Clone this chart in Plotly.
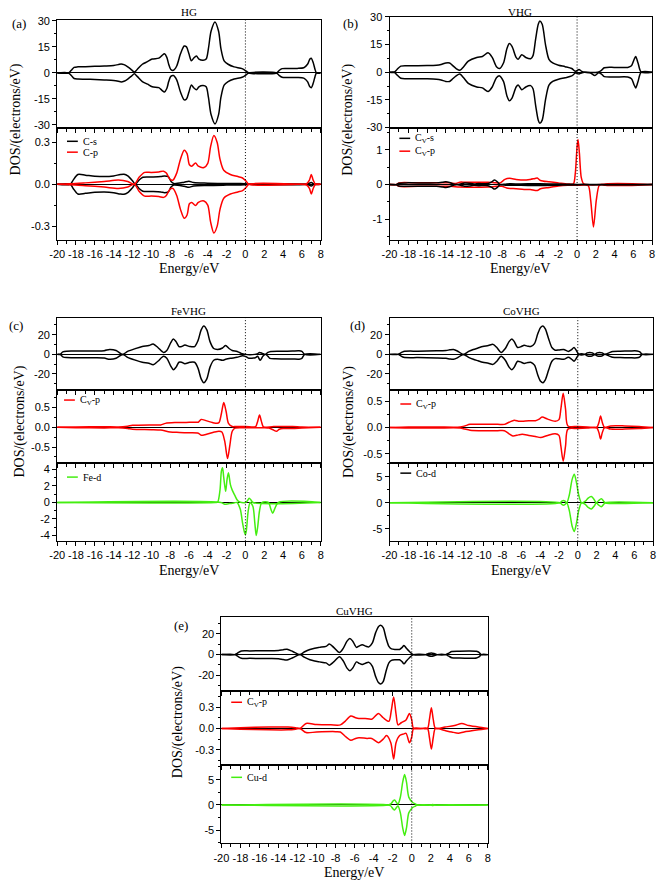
import plotly.graph_objects as go

# ---------------- data (energies in eV, DOS in electrons/eV) ----------------
# (a) HG total DOS (spin up; spin down is its mirror image)
HG_E = [-20, -18.8, -18.5, -18.2, -17.8, -17, -16, -15, -14, -13.5, -13.2, -12.9, -12.5, -12.1, -11.8,
        -11.5, -10.95, -10.4, -9.9, -9.2, -8.87, -8.6, -8.35, -8.15, -7.93, -7.65, -7.3, -6.9, -6.5, -6.26,
        -6.0, -5.74, -5.5, -5.2, -4.94, -4.5, -4.17, -3.93, -3.65, -3.23, -2.85, -2.6, -2.26, -1.84, -1.2,
        -0.35, 0.1, 0.35, 3.3, 3.6, 3.9, 4.5, 5.5, 6.2, 6.6, 6.85, 7.0, 7.2, 7.4, 7.55, 8]
HG_up = [0, 0, 1.5, 3.2, 3.5, 3.6, 3.8, 4.0, 4.3, 4.8, 5.2, 4.8, 3.5, 1.8, 0.5,
         2.0, 5.0, 6.5, 8.0, 8.5, 10.0, 11.0, 9.0, 5.0, 2.0, 1.5, 4.0, 11.0, 15.5, 15.0,
         11.0, 7.0, 8.5, 9.7, 8.0, 7.3, 8.0, 14.0, 24.0, 29.4, 24.0, 14.0, 7.0, 5.0, 3.5,
         2.5, 1.0, 0, 0, 1.5, 2.5, 2.6, 2.6, 3.0, 5.0, 8.0, 8.5, 6.0, 2.0, 0, 0]
HG_dn = [-v for v in HG_up]

# (a) HG C-s / C-p
HGs_E = [-20, -18.6, -18.3, -17.8, -17, -16, -15, -14, -13.3, -12.9, -12.5, -12.0, -11.7, -11.3, -10.9,
         -10.0, -9.0, -8.6, -8.2, -7.9, -7.6, -6.5, -6.0, -5.5, -4, -2, -0.5, 0.2, 0.4, 6.5, 7.0, 7.3, 8]
HGs_up = [0, 0, 0.03, 0.07, 0.065, 0.058, 0.055, 0.06, 0.07, 0.072, 0.06, 0.025, 0.0, 0.03, 0.05,
          0.052, 0.055, 0.06, 0.055, 0.02, 0.005, 0.015, 0.022, 0.012, 0.008, 0.006, 0.005, 0.002, 0, 0, 0.012, 0, 0]
HGs_dn = [-v for v in HGs_up]
HGp_E = [-20, -18.6, -17, -15, -13.5, -12.5, -11.8, -11.3, -10.7, -10, -9.2, -8.7, -8.4, -8.0, -7.7,
         -7.3, -6.9, -6.5, -6.2, -5.95, -5.7, -5.3, -5.0, -4.4, -4.0, -3.7, -3.35, -3.0, -2.7, -2.3,
         -1.6, -0.8, -0.3, 0.1, 0.35, 5.5, 6.5, 6.8, 7.0, 7.2, 7.45, 8]
HGp_up = [0, 0.003, 0.01, 0.02, 0.03, 0.02, 0.0, 0.05, 0.085, 0.085, 0.088, 0.094, 0.08, 0.035, 0.03,
          0.08, 0.18, 0.244, 0.22, 0.14, 0.13, 0.152, 0.13, 0.12, 0.15, 0.27, 0.35, 0.3, 0.18, 0.1,
          0.07, 0.055, 0.045, 0.02, 0, 0, 0.005, 0.03, 0.07, 0.03, 0, 0]
HGp_dn = [-v for v in HGp_up]

# (b) VHG total DOS
VHG_E_up = [-20, -19.5, -19.2, -18.8, -18, -16, -15, -14.5, -14.0, -13.6, -13.35, -12.9, -12.5, -12.1, -11.6,
            -10.7, -10.1, -9.5, -9.05, -8.6, -8.27, -7.85, -7.47, -7.22, -6.94, -6.5, -6.28, -5.9, -5.47, -4.95,
            -4.7, -4.42, -4.14, -3.97, -3.72, -3.37, -3.0, -2.6, -1.97, -1.27, -0.57, -0.2, 0.0, 0.2, 0.45,
            0.8, 2.2, 2.6, 2.9, 4, 5.4, 5.8, 6.05, 6.25, 6.5, 6.85, 8]
VHG_up = [0, 0, 1.5, 3.3, 3.5, 3.6, 3.8, 4.2, 5.0, 5.0, 4.0, 2.0, 1.0, 3.0, 6.0,
          8.0, 8.5, 10.5, 8.0, 3.0, 2.0, 5.0, 13.0, 15.5, 14.0, 8.0, 7.0, 9.5, 8.0, 7.3,
          9.0, 18.0, 26.0, 27.7, 26.0, 15.0, 7.0, 5.0, 3.8, 3.0, 2.0, 0.5, 0.8, 1.5, 0.6,
          0, 0, 1.0, 2.4, 2.6, 2.6, 3.5, 6.5, 8.5, 5.0, 0, 0]
VHG_E_dn = [-20, -19.5, -19.2, -18.8, -18, -16, -15, -14.5, -14.0, -13.6, -13.35, -12.9, -12.5, -12.1, -11.6,
            -10.7, -10.1, -9.5, -9.05, -8.6, -8.27, -7.85, -7.47, -7.22, -6.94, -6.5, -6.28, -5.9, -5.47, -4.95,
            -4.7, -4.42, -4.14, -3.97, -3.72, -3.37, -3.0, -2.6, -1.97, -1.27, -0.57, -0.2, 0.0, 0.2, 0.45,
            0.8, 1.4, 1.9, 2.3, 2.6, 2.9, 4, 5.4, 5.8, 6.05, 6.25, 6.5, 6.85, 8]
VHG_dn = [0, 0, -1.5, -3.3, -3.5, -3.6, -3.8, -4.2, -5.0, -5.0, -4.0, -2.0, -1.0, -3.0, -6.0,
          -8.0, -8.5, -10.5, -8.0, -3.0, -2.0, -5.0, -13.0, -15.5, -14.0, -8.0, -7.0, -9.5, -8.0, -7.3,
          -9.0, -18.0, -26.0, -27.7, -26.0, -15.0, -7.0, -5.0, -3.8, -3.0, -2.0, -0.5, -0.6, -1.0, -0.4,
          0, -0.3, -1.8, -0.3, -1.0, -2.4, -2.6, -2.6, -3.5, -6.5, -8.5, -5.0, 0, 0]

# (b) VHG Cv-s / Cv-p
VCs_E = [-20, -19.3, -19, -18, -16, -15, -14.3, -14.0, -13.6, -13.2, -12.8, -12.3, -12.0, -11.5, -11.0,
         -10.5, -9.5, -9.1, -8.8, -8.5, -8.2, -7.5, -6, -4, -2, -1, 0, 0.5, 2, 3, 6.5, 8]
VCs_up = [0, 0, 0.04, 0.05, 0.045, 0.05, 0.07, 0.08, 0.06, 0.02, 0.0, 0.03, 0.045, 0.04, 0.02,
          0.03, 0.03, 0.08, 0.13, 0.08, 0.0, 0.02, 0.02, 0.025, 0.015, 0.01, 0.005, 0.0, 0.005, 0.005, 0.005, 0]
VCs_dn = [-v for v in VCs_up]
VCp_E_up = [-20, -19.3, -19, -17, -15, -13.5, -13, -12.5, -12, -10.5, -9.5, -9.0, -8.6, -8.2, -7.7,
            -7.2, -6.5, -5.65, -5, -4.6, -4.25, -3.9, -3, -2, -1, -0.4, -0.2, 0.0, 0.1, 0.25,
            0.45, 0.7, 1.0, 2.5, 3, 6.5, 8]
VCp_up = [0, 0, 0.05, 0.05, 0.05, 0.05, 0.03, 0.07, 0.07, 0.07, 0.07, 0.06, 0.05, 0.05, 0.15,
          0.18, 0.15, 0.13, 0.15, 0.17, 0.19, 0.12, 0.08, 0.05, 0.02, 0.02, 0.3, 1.1, 1.3, 0.9,
          0.2, 0.02, 0, 0, 0.02, 0.02, 0]
VCp_E_dn = [-20, -19.3, -19, -17, -13.5, -12.5, -9.5, -8.6, -8.0, -7.5, -6.5, -5.65, -5, -4.25, -3.9,
            -3, -2, -1, 0, 0.8, 1.2, 1.45, 1.75, 2.05, 2.35, 2.6, 3, 6.5, 8]
VCp_dn = [0, 0, -0.05, -0.05, -0.05, -0.07, -0.07, -0.05, -0.05, -0.1, -0.12, -0.14, -0.14, -0.17, -0.12,
          -0.08, -0.04, -0.02, -0.02, -0.01, -0.03, -0.45, -1.22, -0.45, -0.03, 0, -0.02, -0.02, 0]

# (c) FeVHG total DOS
FE_E_up = [-20, -19.7, -19.4, -19.0, -18, -16, -15, -14.43, -13.74, -13.04, -12.52, -11.65, -10.96, -10.26, -9.8,
           -9.3, -8.7, -8.35, -7.93, -7.65, -7.37, -7.06, -6.78, -6.43, -5.9, -5.4, -5.04, -4.7, -4.42, -4.1,
           -3.76, -3.37, -2.96, -2.43, -2.1, -1.74, -1.4, -0.87, -0.45, 0.0, 1.0, 1.25, 1.5, 1.8, 2.1,
           2.4, 2.7, 4, 5, 5.7, 6.0, 6.3, 8]
FE_up = [0, 0, 2.5, 3.3, 3.4, 3.5, 3.8, 5.0, 4.0, 0, 3.0, 6.0, 8.0, 9.0, 10.5,
         7.0, 2.0, 4.0, 12.0, 15.7, 13.0, 8.0, 8.0, 9.5, 8.0, 8.0, 14.0, 25.0, 28.9, 25.0,
         13.0, 6.0, 5.0, 6.5, 9.0, 6.0, 4.0, 3.0, 1.0, 0, 0, 0.5, 2.0, 1.0, 0,
         2.0, 3.0, 3.2, 3.4, 3.6, 3.0, 0, 0]
FE_E_dn = [-20, -19.7, -19.4, -19.0, -18, -16, -15, -14.43, -13.74, -13.04, -12.52, -11.65, -10.96, -10.26, -9.8,
           -9.3, -8.7, -8.35, -7.93, -7.65, -7.37, -7.06, -6.78, -6.43, -5.9, -5.4, -5.04, -4.7, -4.42, -4.1,
           -3.76, -3.37, -2.96, -2.43, -2.1, -1.6, -0.9, -0.3, 0.0, 0.35, 0.8, 1.04, 1.3, 1.56, 1.85,
           2.1, 2.4, 2.6, 3.2, 4, 5, 5.7, 6.0, 6.3, 8]
FE_dn = [0, 0, -2.5, -3.3, -3.4, -3.5, -3.8, -5.0, -4.0, 0, -3.0, -6.0, -8.0, -9.0, -10.5,
         -7.0, -2.0, -4.0, -12.0, -15.7, -13.0, -8.0, -8.0, -9.5, -8.0, -8.0, -14.0, -25.0, -28.9, -25.0,
         -13.0, -6.0, -5.0, -6.0, -5.0, -4.0, -3.0, -1.5, -2.0, -3.9, -3.8, -3.5, -2.0, -6.0, -2.0,
         0, -2.0, -4.0, -4.5, -4.6, -4.7, -4.9, -4.0, 0, 0]

# (c) Fe Cv-p
FEp_E_up = [-20, -18, -15, -13.5, -12.5, -12, -10, -9, -8.5, -7.5, -6.5, -5.5, -5.0, -4.7, -4.2,
            -3.5, -3.0, -2.8, -2.55, -2.3, -2.05, -1.8, -1.4, -1.0, 0, 0.9, 1.1, 1.3, 1.5, 1.7,
            1.9, 2.1, 3, 4, 5, 6, 8]
FEp_up = [0, 0.01, 0.015, 0.01, 0.03, 0.05, 0.06, 0.06, 0.1, 0.12, 0.12, 0.13, 0.13, 0.2, 0.17,
          0.12, 0.1, 0.12, 0.35, 0.625, 0.4, 0.1, 0.02, 0.02, 0.02, 0.01, 0.02, 0.15, 0.31, 0.15,
          0.01, 0.0, 0.02, 0.02, 0.02, 0.01, 0]
FEp_E_dn = [-20, -18, -15, -13.5, -12.5, -12, -10, -9, -8, -7, -6, -5.0, -4.7, -4.2, -3.3,
            -2.8, -2.5, -2.2, -1.9, -1.65, -1.4, -1.1, 0, 1, 2, 2.5, 3.0, 3.3, 3.6, 4,
            5, 6, 8]
FEp_dn = [0, -0.01, -0.015, -0.01, -0.03, -0.05, -0.06, -0.07, -0.12, -0.13, -0.14, -0.15, -0.2, -0.18, -0.12,
          -0.1, -0.12, -0.35, -0.79, -0.45, -0.1, -0.02, -0.01, -0.01, -0.01, -0.02, -0.07, -0.1, -0.05, -0.03,
          -0.03, -0.02, 0]

# (c) Fe-d
FEd_E_up = [-20, -3.2, -2.95, -2.7, -2.55, -2.43, -2.3, -2.1, -1.95, -1.8, -1.6, -1.4, -1.1, -0.87, -0.6,
            0.0, 0.2, 0.4, 0.6, 0.8, 8]
FEd_up = [0, 0, 0.05, 1.5, 3.8, 4.2, 3.0, 1.35, 2.8, 3.6, 2.2, 1.5, 0.8, 0.3, 0.05,
          0, 0.2, 0.5, 0.3, 0, 0]
FEd_E_dn = [-20, -2.6, -2.2, -1.8, -1.4, -0.9, -0.55, -0.3, -0.1, 0.0, 0.1, 0.3, 0.5, 0.8, 1.0,
            1.15, 1.3, 1.5, 1.75, 2.45, 2.7, 2.9, 3.1, 3.5, 8]
FEd_dn = [0, 0, -0.2, -0.15, -0.1, 0, -0.8, -2.5, -3.6, -3.9, -3.4, -1.0, 0, -0.5, -2.5,
          -4.0, -3.0, -1.0, 0, 0, -0.8, -1.3, -0.8, 0, 0]

# (d) CoVHG total DOS (spin down is the mirror image)
CO_E = [-20, -19.1, -18.8, -18.5, -17, -15, -14, -13.6, -13.2, -12.8, -12.15, -11.6, -11.1, -10.6, -10.1,
        -9.5, -9.0, -8.6, -8.15, -7.7, -7.3, -7.0, -6.75, -6.4, -6.0, -5.7, -5.3, -5.0, -4.6, -4.25,
        -3.95, -3.7, -3.45, -3.1, -2.75, -2.4, -2.0, -1.5, -1.0, -0.7, -0.4, -0.15, 0.12, 0.75, 1.0,
        1.27, 1.55, 1.8, 2.05, 2.3, 2.6, 2.85, 3.3, 3.7, 4.5, 5.5, 6.3, 6.6, 6.85, 8]
CO_up = [0, 0, 1.5, 3.0, 3.3, 3.6, 4.0, 4.6, 4.9, 3.5, 0, 3.0, 5.0, 6.5, 8.0,
         9.0, 10.2, 7.0, 2.0, 6.0, 13.0, 15.7, 13.0, 7.0, 8.0, 9.2, 8.3, 8.0, 11.0, 21.0,
         27.5, 28.9, 26.0, 16.0, 7.0, 4.3, 4.5, 5.0, 3.0, 4.5, 6.9, 4.0, 0, 0, 1.5,
         2.0, 1.5, 0, 1.5, 2.0, 1.5, 0, 1.5, 3.0, 3.3, 3.5, 3.5, 2.5, 0, 0]
CO_dn = [-v for v in CO_up]

# (d) Co Cv-p
COp_E_up = [-20, -18, -15, -12.5, -12, -11.45, -10, -8.5, -7.8, -7.3, -6.75, -6.3, -5.9, -5.2, -4.5,
            -4.1, -3.8, -3.2, -2.4, -2.0, -1.8, -1.55, -1.3, -1.05, 0, 1.0, 2.0, 2.25, 2.42, 2.6,
            2.85, 3.5, 5, 6.5, 8]
COp_up = [0, 0.01, 0.01, 0.01, 0.03, 0.06, 0.06, 0.06, 0.06, 0.1, 0.14, 0.12, 0.12, 0.13, 0.13,
          0.16, 0.2, 0.16, 0.12, 0.15, 0.35, 0.65, 0.35, 0.03, 0.02, 0.01, 0.0, 0.1, 0.22, 0.1,
          0.0, 0.03, 0.03, 0.02, 0]
COp_E_dn = [-20, -18, -15, -12.5, -12, -11.45, -10, -8.5, -7.8, -7.3, -6.9, -6.3, -5.9, -5.2, -4.5,
            -3.95, -3.2, -2.4, -2.0, -1.8, -1.55, -1.3, -1.05, 0, 1.0, 2.0, 2.25, 2.42, 2.6, 2.85,
            3.5, 5, 6.5, 8]
COp_dn = [0, -0.01, -0.01, -0.01, -0.03, -0.05, -0.06, -0.06, -0.06, -0.12, -0.16, -0.14, -0.13, -0.15, -0.17,
          -0.19, -0.15, -0.12, -0.15, -0.35, -0.64, -0.35, -0.03, -0.02, -0.01, 0, -0.1, -0.22, -0.1, 0,
          -0.03, -0.03, -0.02, 0]

# (d) Co-d
COd_E = [-20, -1.9, -1.7, -1.52, -1.35, -1.17, -0.9, -0.6, -0.37, -0.15, 0.1, 0.4, 0.8, 1.1, 1.44,
         1.75, 1.97, 2.2, 2.5, 2.75, 2.9, 8]
COd_up = [0, 0, 0.3, 0.45, 0.3, 0, 1.5, 4.5, 5.5, 4.0, 1.5, 0, 0.3, 0.9, 1.2,
          0.6, 0, 0.4, 0.76, 0.3, 0, 0]
COd_dn = [-v for v in COd_up]

# (e) CuVHG total DOS (spin down is the mirror image)
CU_E = [-20, -18.6, -18.3, -17.9, -17, -15, -14, -13.5, -13.1, -12.5, -11.75, -11.3, -10.7, -10.2, -9.7,
        -9.0, -8.65, -8.2, -7.6, -7.2, -6.8, -6.5, -6.2, -5.8, -5.5, -5.2, -4.8, -4.5, -4.15, -3.8,
        -3.5, -3.27, -3.0, -2.7, -2.4, -2.13, -1.7, -1.27, -1.0, -0.82, -0.55, -0.24, 0.17, 1.48, 1.75,
        2.06, 2.35, 2.68, 3.54, 3.9, 4.2, 5, 6, 6.8, 7.1, 7.3, 8]
CU_up = [0, 0, 1.5, 3.5, 3.6, 3.8, 4.0, 4.8, 5.1, 3.0, 0, 2.5, 5.0, 6.2, 7.0,
         8.0, 10.2, 7.0, 2.0, 6.0, 13.0, 15.6, 13.0, 7.0, 8.5, 9.5, 8.0, 7.5, 11.0, 21.0,
         27.0, 28.3, 26.0, 16.0, 8.0, 5.5, 5.0, 5.0, 7.0, 8.9, 6.0, 3.0, 0, 0, 1.0,
         1.5, 1.0, 0, 0, 1.5, 3.0, 3.3, 3.5, 3.2, 2.0, 0, 0]
CU_dn = [-v for v in CU_up]

# (e) Cu Cv-p
CUp_E_up = [-20, -18, -15, -13, -12.2, -11.75, -11.1, -10, -8.5, -7.5, -7.0, -6.4, -5.9, -5.55, -4.9,
            -4.2, -3.5, -3.0, -2.4, -2.15, -1.9, -1.65, -1.44, -1.1, -0.6, -0.24, 0.0, 0.2, 1.0, 1.65,
            1.85, 2.06, 2.27, 2.5, 3.5, 4.5, 5.26, 6, 7.5, 8]
CUp_up = [0, 0.01, 0.02, 0.02, 0.01, 0.0, 0.07, 0.055, 0.05, 0.05, 0.1, 0.175, 0.15, 0.14, 0.14,
          0.13, 0.21, 0.15, 0.1, 0.25, 0.44, 0.2, 0.05, 0.08, 0.12, 0.21, 0.12, 0.0, 0.0, 0.0,
          0.12, 0.29, 0.12, 0.0, 0.02, 0.04, 0.07, 0.04, 0.01, 0]
CUp_E_dn = [-20, -18, -15, -13, -12.2, -11.75, -11.1, -10, -8, -7.5, -7.0, -6.4, -5.9, -5.55, -4.7,
            -4.2, -3.5, -3.0, -2.65, -2.2, -1.9, -1.65, -1.27, -0.9, -0.6, -0.24, 0.0, 0.2, 1.0, 1.65,
            1.85, 2.06, 2.27, 2.5, 3.5, 4.2, 4.9, 5.5, 7.5, 8]
CUp_dn = [0, -0.01, -0.02, -0.02, -0.01, 0.0, -0.058, -0.05, -0.045, -0.05, -0.11, -0.166, -0.14, -0.13, -0.14,
          -0.14, -0.2, -0.15, -0.1, -0.2, -0.43, -0.2, -0.1, -0.08, -0.07, -0.2, -0.12, 0, 0, 0,
          -0.12, -0.29, -0.12, 0, -0.03, -0.05, -0.067, -0.05, -0.01, 0]

# (e) Cu-d
CUd_E = [-20, -2.5, -2.2, -1.95, -1.8, -1.6, -1.44, -1.2, -0.95, -0.75, -0.55, -0.3, 0.1, 0.4, 0.6,
         2.0, 2.2, 2.4, 8]
CUd_up = [0, 0, 0.2, 0.8, 0.97, 0.5, 0.2, 1.5, 4.5, 6.0, 4.5, 1.5, 0.5, 0.2, 0,
          0, 0.12, 0, 0]
CUd_dn = [-v for v in CUd_up]

# tick labels
X_TICKS = [-20, -18, -16, -14, -12, -10, -8, -6, -4, -2, 0, 2, 4, 6, 8]
X_TICKTEXT = [str(v) for v in X_TICKS]

# ---------------- layout helpers ----------------
W, H = 661, 888
BLACK, RED, GREEN = "#000000", "#ff0000", "#44ee11"
SERIF = "Liberation Serif, Times New Roman, serif"
SANS = "Liberation Sans, Arial, sans-serif"


def fx(p):
    return p / W


def fy(p):
    return 1 - p / H


# subplot boxes: (x0, x1, y0, y1) in pixels, y range, tick values, decimals, minor dtick, is bottom row
AXES = [
    ((50, 318, 14, 124), [-32, 30.6], [-30, -15, 0, 15, 30], 0, 7.5, False),     # 1 a top
    ((50, 318, 124, 237), [-0.4, 0.4], [-0.3, 0.0, 0.3], 1, 0.15, True),          # 2 a bottom
    ((388, 655, 11, 124), [-30.5, 30], [-30, -15, 0, 15, 30], 0, 7.5, False),     # 3 b top
    ((388, 655, 124, 237), [-1.6, 1.62], [-1, 0, 1], 0, 0.5, True),               # 4 b bottom
    ((50, 318, 316, 389), [-36.5, 37], [-20, 0, 20], 0, 10, False),               # 5 c top
    ((50, 318, 389, 463), [-0.91, 0.94], [-0.5, 0.0, 0.5], 1, 0.25, False),       # 6 c mid
    ((50, 318, 463, 542), [-4.7, 4.75], [-4, -2, 0, 2, 4], 0, 1, True),           # 7 c bottom
    ((388, 656, 316, 389), [-36.5, 37], [-20, 0, 20], 0, 10, False),              # 8 d top
    ((388, 656, 389, 463), [-0.68, 0.71], [-0.5, 0.0, 0.5], 1, 0.25, False),      # 9 d mid
    ((388, 656, 463, 542), [-7.4, 7.6], [-5, 0, 5], 0, 2.5, True),                # 10 d bottom
    ((217, 488, 619, 694), [-35.5, 36], [-20, 0, 20], 0, 10, False),              # 11 e top
    ((217, 488, 694, 769), [-0.52, 0.52], [-0.3, 0.0, 0.3], 1, 0.15, False),      # 12 e mid
    ((217, 488, 769, 848), [-7.6, 7.8], [-5, 0, 5], 0, 2.5, True),                # 13 e bottom
]

fig = go.Figure()


def add(ax, xs, ys, color):
    sfx = "" if ax == 1 else str(ax)
    fig.add_trace(go.Scatter(x=xs, y=ys, mode="lines", xaxis="x" + sfx, yaxis="y" + sfx,
                             line=dict(color=color, width=1.5, shape="spline", smoothing=0.8),
                             showlegend=False, hoverinfo="skip"))


# (a)
add(1, HG_E, HG_up, BLACK); add(1, HG_E, HG_dn, BLACK)
add(2, HGs_E, HGs_up, BLACK); add(2, HGs_E, HGs_dn, BLACK)
add(2, HGp_E, HGp_up, RED); add(2, HGp_E, HGp_dn, RED)
# (b)
add(3, VHG_E_up, VHG_up, BLACK); add(3, VHG_E_dn, VHG_dn, BLACK)
add(4, VCp_E_up, VCp_up, RED); add(4, VCp_E_dn, VCp_dn, RED)
add(4, VCs_E, VCs_up, BLACK); add(4, VCs_E, VCs_dn, BLACK)
# (c)
add(5, FE_E_up, FE_up, BLACK); add(5, FE_E_dn, FE_dn, BLACK)
add(6, FEp_E_up, FEp_up, RED); add(6, FEp_E_dn, FEp_dn, RED)
add(7, FEd_E_up, FEd_up, GREEN); add(7, FEd_E_dn, FEd_dn, GREEN)
# (d)
add(8, CO_E, CO_up, BLACK); add(8, CO_E, CO_dn, BLACK)
add(9, COp_E_up, COp_up, RED); add(9, COp_E_dn, COp_dn, RED)
add(10, COd_E, COd_up, GREEN); add(10, COd_E, COd_dn, GREEN)
# (e)
add(11, CU_E, CU_up, BLACK); add(11, CU_E, CU_dn, BLACK)
add(12, CUp_E_up, CUp_up, RED); add(12, CUp_E_dn, CUp_dn, RED)
add(13, CUd_E, CUd_up, GREEN); add(13, CUd_E, CUd_dn, GREEN)

layout = {}
shapes = []
for i, (box, yr, yt, dec, ymin, bottom) in enumerate(AXES, 1):
    x0, x1, y0, y1 = box
    sfx = "" if i == 1 else str(i)
    layout["xaxis" + sfx] = dict(
        domain=[fx(x0), fx(x1)], anchor="y" + sfx, range=[-20, 8],
        showline=True, linecolor="black", linewidth=1, mirror=True,
        ticks="outside", ticklen=4, tickwidth=1, tickcolor="black",
        tickvals=X_TICKS, ticktext=X_TICKTEXT, showticklabels=bottom,
        minor=dict(dtick=1, tick0=0, ticks="outside", ticklen=3, tickcolor="black"),
        showgrid=False, zeroline=False,
        tickfont=dict(family=SANS, size=11, color="black"))
    layout["yaxis" + sfx] = dict(
        domain=[fy(y1), fy(y0)], anchor="x" + sfx, range=yr,
        showline=True, linecolor="black", linewidth=1, mirror=True,
        ticks="outside", ticklen=4, tickwidth=1, tickcolor="black",
        tickvals=yt, ticktext=[f"{v:.{dec}f}" for v in yt],
        minor=dict(dtick=ymin, tick0=0, ticks="outside", ticklen=2, tickcolor="black"),
        showgrid=False, zeroline=True, zerolinecolor="black", zerolinewidth=1,
        tickfont=dict(family=SANS, size=11, color="black"))
    shapes.append(dict(type="line", xref="x" + sfx, yref="y" + sfx + " domain",
                       x0=0, x1=0, y0=0, y1=1, line=dict(color="black", width=1, dash="1px,2px")))

annotations = []


def text(px, py, s, size, family=SERIF, angle=0, xanchor="center", color="black"):
    annotations.append(dict(x=fx(px), y=fy(py), xref="paper", yref="paper", text=s,
                            showarrow=False, textangle=angle, xanchor=xanchor, yanchor="middle",
                            font=dict(family=family, size=size, color=color)))


# titles
text(184, 6, "HG", 11)
text(521, 6, "VHG", 11)
text(184, 309, "FeVHG", 11)
text(522, 309, "CoVHG", 11)
text(352, 613, "CuVHG", 11)
# panel labels
text(11, 18, "(a)", 13)
text(348, 18, "(b)", 13)
text(8, 324, "(c)", 13)
text(355, 324, "(d)", 13)
text(176, 627, "(e)", 13)
# axis titles
for cx, cy in [(8, 115), (345, 115), (12, 421), (347, 421), (173, 725)]:
    text(cx, cy, "DOS/(electrons/eV)", 14, angle=-90)
for cx, cy in [(184, 266), (521, 266), (184, 572), (522, 572), (352, 877)]:
    text(cx, cy, "Energy/eV", 14)


# legends: a short coloured line sample followed by the label
def leg(px, py, color, label):
    shapes.append(dict(type="line", xref="paper", yref="paper",
                       x0=fx(px), x1=fx(px + 11), y0=fy(py), y1=fy(py),
                       line=dict(color=color, width=1.5)))
    text(px + 14, py, label, 10, xanchor="left")


leg(60, 137, BLACK, "C-s")
leg(60, 148, RED, "C-p")
leg(398, 134, BLACK, "C<sub>V</sub>-s")
leg(398, 147, RED, "C<sub>V</sub>-p")
leg(57, 399, RED, "C<sub>V</sub>-p")
leg(60, 477, GREEN, "Fe-d")
leg(399, 403, RED, "C<sub>V</sub>-p")
leg(399, 473, BLACK, "Co-d")
leg(227, 705, RED, "C<sub>V</sub>-p")
leg(227, 781, GREEN, "Cu-d")

fig.update_layout(**layout)
fig.update_layout(width=W, height=H, margin=dict(l=0, r=0, t=0, b=0),
                  paper_bgcolor="white", plot_bgcolor="white",
                  shapes=shapes, annotations=annotations, showlegend=False)
fig.write_html("out.html")
